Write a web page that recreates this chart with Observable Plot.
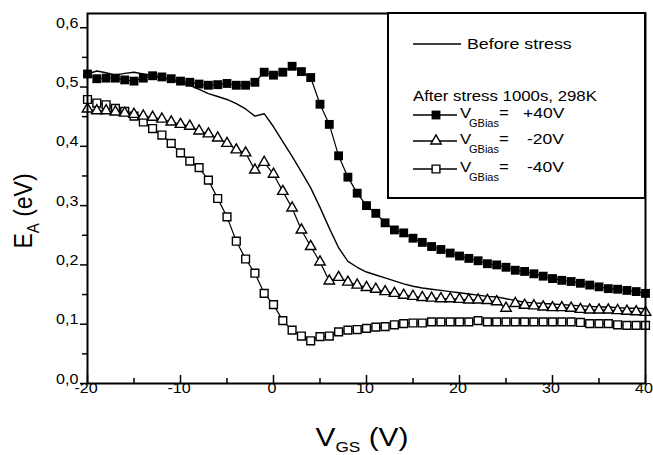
<!DOCTYPE html>
<html><head><meta charset="utf-8">
<script src="https://cdn.jsdelivr.net/npm/d3@7"></script>
<script src="https://cdn.jsdelivr.net/npm/@observablehq/plot@0.6"></script>
<style>
body{margin:0;background:#fff}
svg{font-family:"Liberation Sans",Arial,Helvetica,sans-serif}
</style>
</head><body><div id="chart"></div>
<script>
// V_GS values (V)
const vgs = [-20,-19,-18,-17,-16,-15,-14,-13,-12,-11,-10,-9,-8,-7,-6,-5,-4,-3,-2,-1,0,1,2,3,4,5,6,7,8,9,10,11,12,13,14,15,16,17,18,19,20,21,22,23,24,25,26,27,28,29,30,31,32,33,34,35,36,37,38,39,40];

// E_A (eV) before stress (solid line)
const eaBefore = [0.522,0.527,0.524,0.520,0.523,0.525,0.522,0.519,0.515,0.512,0.508,0.503,0.496,0.489,0.484,0.479,0.472,0.463,0.451,0.455,0.433,0.408,0.383,0.357,0.330,0.297,0.262,0.229,0.206,0.196,0.188,0.183,0.178,0.173,0.168,0.164,0.161,0.159,0.157,0.155,0.153,0.151,0.149,0.147,0.146,0.143,0.140,0.137,0.136,0.135,0.134,0.133,0.132,0.131,0.130,0.129,0.129,0.128,0.127,0.127,0.126];

// After stress, V_GBias = +40 V (filled squares)
const eaP40 = [0.522,0.514,0.515,0.515,0.512,0.510,0.515,0.519,0.517,0.514,0.510,0.508,0.505,0.503,0.504,0.506,0.503,0.503,0.508,0.525,0.520,0.525,0.535,0.526,0.516,0.471,0.437,0.384,0.348,0.321,0.300,0.287,0.271,0.259,0.254,0.245,0.238,0.231,0.226,0.220,0.215,0.211,0.207,0.202,0.200,0.196,0.191,0.189,0.185,0.181,0.177,0.174,0.172,0.169,0.166,0.163,0.160,0.159,0.157,0.155,0.152];

// After stress, V_GBias = -20 V (open triangles)
const eaM20 = [0.463,0.460,0.460,0.458,0.456,0.454,0.451,0.449,0.446,0.441,0.437,0.434,0.426,0.421,0.414,0.405,0.394,0.389,0.360,0.373,0.353,0.324,0.296,0.259,0.231,0.205,0.173,0.179,0.171,0.166,0.162,0.159,0.155,0.152,0.149,0.147,0.145,0.144,0.143,0.143,0.142,0.141,0.141,0.140,0.138,0.127,0.135,0.132,0.131,0.129,0.128,0.128,0.127,0.125,0.124,0.124,0.124,0.123,0.122,0.121,0.120];

// After stress, V_GBias = -40 V (open squares)
const eaM40 = [0.479,0.473,0.470,0.464,0.459,0.451,0.441,0.430,0.419,0.405,0.389,0.375,0.364,0.343,0.312,0.281,0.240,0.210,0.186,0.152,0.133,0.106,0.090,0.080,0.072,0.079,0.080,0.087,0.090,0.091,0.093,0.095,0.096,0.099,0.101,0.102,0.102,0.104,0.104,0.104,0.104,0.104,0.106,0.104,0.104,0.104,0.104,0.104,0.104,0.104,0.104,0.104,0.104,0.103,0.101,0.101,0.101,0.099,0.098,0.098,0.098];

const xMajor = [-20,-10,0,10,20,30,40];
const xMinor = [-15,-5,5,15,25,35];
const yMajor = [0,0.1,0.2,0.3,0.4,0.5,0.6];
const yMinor = [0.05,0.15,0.25,0.35,0.45,0.55];

const legendTitle = "After stress 1000s, 298K";
const beforeLabel = "Before stress";
const biasLabels = ["+40V","-20V","-40V"];

const toRows = vals => vgs.map((v, i) => ({v, e: vals[i]}));
const before = toRows(eaBefore), p40 = toRows(eaP40), m20 = toRows(eaM20), m40 = toRows(eaM40);

const W = 653, H = 455, mL = 87, mR = 8, mT = 13, mB = 72;
const innerH = H - mT - mB;

const svg = Plot.plot({
  width: W, height: H,
  marginLeft: mL, marginRight: mR, marginTop: mT, marginBottom: mB,
  style: {fontFamily: '"Liberation Sans", Arial, sans-serif', background: "#fff", overflow: "visible"},
  x: {domain: [-20, 40]},
  y: {domain: [0, 0.624]},
  marks: [
    Plot.line(before, {x: "v", y: "e", stroke: "black", strokeWidth: 1.4}),
    Plot.line(m40, {x: "v", y: "e", stroke: "black", strokeWidth: 1.2}),
    Plot.dot(m40, {x: "v", y: "e", symbol: "square", r: 4.4, fill: "white", stroke: "black", strokeWidth: 1.4}),
    Plot.line(m20, {x: "v", y: "e", stroke: "black", strokeWidth: 1.2}),
    Plot.dot(m20, {x: "v", y: "e", symbol: "triangle", r: 3.9, fill: "white", stroke: "black", strokeWidth: 1.4}),
    Plot.line(p40, {x: "v", y: "e", stroke: "black", strokeWidth: 1.2}),
    Plot.dot(p40, {x: "v", y: "e", symbol: "square", r: 5, fill: "black", stroke: "none"}),
    Plot.frame({stroke: "black", strokeWidth: 2}),
    Plot.axisY({ticks: yMajor, tickSize: 7, tickPadding: 2, strokeWidth: 1.5, fontSize: 14, fill: "#000",
      tickFormat: d => d.toFixed(1).replace(".", ","), label: null}),
    Plot.axisY({ticks: yMinor, tickSize: 5, strokeWidth: 1.5, tickFormat: () => "", label: null}),
    Plot.axisX({ticks: xMajor, tickSize: 0, tickPadding: 9, fontSize: 14, fill: "#000", dx: -1.5,
      tickFormat: d => String(d), label: null}),
    Plot.tickX(xMajor, {x: d => d, insetTop: innerH - 8, stroke: "black", strokeWidth: 1.5}),
    Plot.tickX(xMinor, {x: d => d, insetTop: innerH - 5, stroke: "black", strokeWidth: 1.5})
  ]
});

// stretch tick labels horizontally like the original
svg.querySelectorAll('g[aria-label$="tick label"] text').forEach(t => {
  let tr = t.getAttribute("transform") || "";
  if (t.hasAttribute("x") || t.hasAttribute("y")) {
    const x = +t.getAttribute("x") || 0, y = +t.getAttribute("y") || 0;
    t.removeAttribute("x"); t.removeAttribute("y");
    tr = `${tr} translate(${x},${y})`;
  }
  t.setAttribute("transform", tr + " scale(1.15,1)");
});

const s = d3.select(svg);
const ff = '"Liberation Sans", Arial, sans-serif';

// Legend box
const lg = s.append("g").attr("text-anchor", "start");
lg.append("rect").attr("x", 388).attr("y", 13).attr("width", 257).attr("height", 185)
  .attr("fill", "white").attr("stroke", "black").attr("stroke-width", 2);

function addText(g, x, y, str, size, sx) {
  return g.append("text").attr("transform", `translate(${x},${y}) scale(${sx},1)`)
    .attr("text-anchor", "start")
    .attr("font-size", size).attr("font-family", ff).attr("fill", "black").text(str);
}

lg.append("line").attr("x1", 413).attr("x2", 461).attr("y1", 44).attr("y2", 44)
  .attr("stroke", "black").attr("stroke-width", 1.5);
addText(lg, 467, 49, beforeLabel, 14, 1.27);
addText(lg, 413, 101, legendTitle, 14, 1.2);

const rowsY = [115, 141, 169];
const syms = [
  {type: d3.symbolSquare, size: 25 * Math.PI, fill: "black", stroke: "none"},
  {type: d3.symbolTriangle, size: 3.9 * 3.9 * Math.PI, fill: "white", stroke: "black"},
  {type: d3.symbolSquare, size: 4.4 * 4.4 * Math.PI, fill: "white", stroke: "black"}
];
const valX = [523, 527, 527];
rowsY.forEach((y, i) => {
  lg.append("line").attr("x1", 413).attr("x2", 457).attr("y1", y).attr("y2", y)
    .attr("stroke", "black").attr("stroke-width", 1.3);
  lg.append("path").attr("d", d3.symbol().type(syms[i].type).size(syms[i].size)())
    .attr("transform", `translate(436,${y})`)
    .attr("fill", syms[i].fill).attr("stroke", syms[i].stroke).attr("stroke-width", 1.4);
  addText(lg, 460, y + 3, "V", 14, 1.2);
  addText(lg, 469, y + 12, "GBias", 10, 1.1);
  addText(lg, 499, y + 3, "=", 14, 1.2);
  addText(lg, valX[i], y + 3, biasLabels[i], 14, 1.25);
});

// Axis titles
const yt = s.append("text")
  .attr("transform", "translate(32,211) scale(1.15,1) rotate(-90)")
  .attr("text-anchor", "middle").attr("font-size", 23).attr("font-family", ff)
  .style("white-space", "pre").attr("fill", "black");
yt.append("tspan").text("E");
yt.append("tspan").attr("font-size", 15).attr("dy", 6).text("A");
yt.append("tspan").attr("dy", -6).text(" (eV)");

const xt = s.append("text")
  .attr("transform", "translate(362,446) scale(1.15,1)")
  .attr("text-anchor", "middle").attr("font-size", 26).attr("font-family", ff)
  .style("white-space", "pre").attr("fill", "black");
xt.append("tspan").text("V");
xt.append("tspan").attr("font-size", 15).attr("dy", 6).text("GS");
xt.append("tspan").attr("dy", -6).text(" (V)");

document.getElementById("chart").appendChild(svg);
</script>
</body></html>
